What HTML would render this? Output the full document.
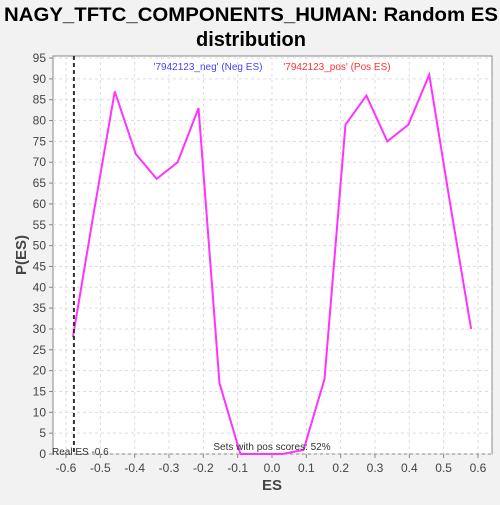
<!DOCTYPE html>
<html><head><meta charset="utf-8"><style>
body{margin:0;background:#f2f2f2;font-family:"Liberation Sans",sans-serif}
</style></head><body>
<svg width="500" height="500" xmlns="http://www.w3.org/2000/svg">
<rect width="500" height="500" fill="#f2f2f2"/>
<text x="251" y="21" text-anchor="middle" font-size="19" font-weight="bold" fill="#000" textLength="494" lengthAdjust="spacingAndGlyphs">NAGY_TFTC_COMPONENTS_HUMAN: Random ES</text>
<text x="251" y="46" text-anchor="middle" font-size="20" font-weight="bold" fill="#000">distribution</text>
<rect x="53" y="56" width="439" height="398" fill="#fff" stroke="#888"/>
<g id="grid"></g><g id="axes"></g>
<text x="208" y="70" text-anchor="middle" font-size="10" fill="#4444ff">'7942123_neg' (Neg ES)</text>
<text x="337" y="70" text-anchor="middle" font-size="10" fill="#ff3333">'7942123_pos' (Pos ES)</text>
<polyline id="line" fill="none" stroke="#ff33ff" stroke-width="2"/>
<line id="real" y1="56" y2="454" stroke="#333" stroke-width="2" stroke-dasharray="4,3"/>
<text x="52" y="455" font-size="10" fill="#333">Real ES -0.6</text>
<text x="272" y="450" text-anchor="middle" font-size="10" fill="#333">Sets with pos scores: 52%</text>
<text x="272" y="490" text-anchor="middle" font-size="15" font-weight="bold" fill="#444">ES</text>
<text transform="translate(26,255) rotate(-90)" text-anchor="middle" font-size="15" font-weight="bold" fill="#444">P(ES)</text>
</svg>
<script>
const esValues=[-0.58,-0.519,-0.458,-0.397,-0.336,-0.275,-0.214,-0.153,-0.092,-0.031,0.031,0.092,0.153,0.214,0.275,0.336,0.397,0.458,0.519,0.58];
const pValues=[28,58,87,72,66,70,83,17,0,0,0,1,18,79,86,75,79,91,60,30];
const xTicks=[-0.6,-0.5,-0.4,-0.3,-0.2,-0.1,0.0,0.1,0.2,0.3,0.4,0.5,0.6];
const yTicks=[0,5,10,15,20,25,30,35,40,45,50,55,60,65,70,75,80,85,90,95];
const realES=-0.577;
const X=v=>272+v*343.3, Y=v=>454-v*4.168;
const NS="http://www.w3.org/2000/svg";
const grid=document.getElementById('grid'), axes=document.getElementById('axes');
function mk(tag,attrs,parent,txt){const e=document.createElementNS(NS,tag);for(const k in attrs)e.setAttribute(k,attrs[k]);if(txt!==undefined)e.textContent=txt;parent.appendChild(e);return e;}
xTicks.forEach(t=>{
 const gl=mk('line',{x1:X(t),x2:X(t),y1:56,y2:454,stroke:'#ddd','stroke-dasharray':'3,3'},grid);
 
 const tk=mk('line',{x1:X(t),x2:X(t),y1:454,y2:458,stroke:'#888'},axes);
 
 const lb=mk('text',{x:X(t),y:472,'text-anchor':'middle','font-size':12,fill:'#444'},axes,t.toFixed(1));
 
});
yTicks.forEach(t=>{
 const gl=mk('line',{x1:53,x2:492,y1:Y(t),y2:Y(t),stroke:'#ddd','stroke-dasharray':'3,3'},grid);
 
 const tk=mk('line',{x1:49,x2:53,y1:Y(t),y2:Y(t),stroke:'#888'},axes);
 
 const lb=mk('text',{x:46,y:Y(t)+4,'text-anchor':'end','font-size':12,fill:'#444'},axes,String(t));
 
});
document.getElementById('line').setAttribute('points',esValues.map((v,i)=>X(v)+','+Y(pValues[i])).join(' '));
const r=document.getElementById('real');r.setAttribute('x1',X(realES));r.setAttribute('x2',X(realES));
</script>
</body></html>
